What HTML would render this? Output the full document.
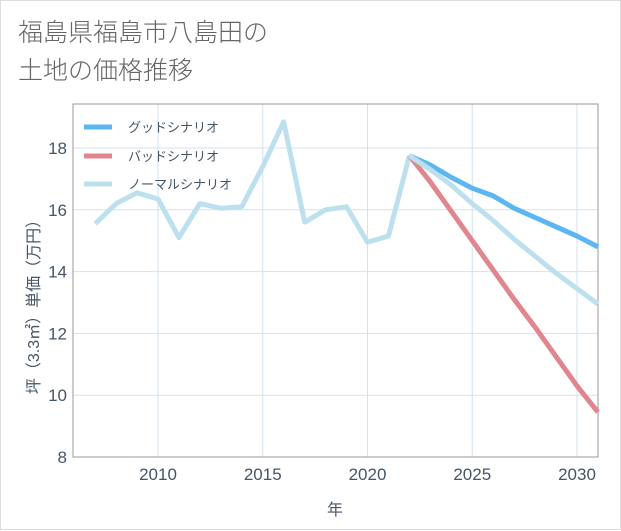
<!DOCTYPE html>
<html><head><meta charset="utf-8"><style>
body{margin:0;background:#fff;}
#wrap{position:relative;width:621px;height:530px;box-sizing:border-box;border:1px solid #ddd;background:#fff;font-family:"Liberation Sans","Noto Sans CJK JP",sans-serif;}
#title{position:absolute;left:17px;top:13px;font-size:25px;line-height:38px;color:#666;font-weight:300;}
</style></head><body>
<div id="wrap">
<div id="title">福島県福島市八島田の<br>土地の価格推移</div>
<svg id="chart" width="621" height="530" style="position:absolute;left:0;top:0"></svg>
</div>
<script>
const years=[2007,2008,2009,2010,2011,2012,2013,2014,2015,2016,2017,2018,2019,2020,2021,2022];
const normalHist=[15.55,16.2,16.55,16.35,15.1,16.2,16.05,16.1,17.4,18.85,15.6,16.0,16.1,14.95,15.15,17.75];
const futureYears=[2022,2023,2024,2025,2026,2027,2028,2029,2030,2031];
const goodVals=[17.75,17.45,17.05,16.7,16.45,16.05,15.75,15.45,15.15,14.8];
const badVals=[17.75,16.9,15.95,15.0,14.05,13.1,12.2,11.25,10.3,9.45];
const normalVals=[17.75,17.3,16.8,16.2,15.65,15.05,14.5,13.95,13.45,12.95];
const xTicks=[2010,2015,2020,2025,2030];
const yTicks=[8,10,12,14,16,18];
const L=72,R=597,T=103,B=456;
const xs=y=>157+(y-2010)*(576-157)/20;
const ys=v=>456-(v-8)*(456-147)/10;
const svg=document.getElementById('chart');
const NS='http://www.w3.org/2000/svg';
function mk(t,a){const e=document.createElementNS(NS,t);for(const k in a)e.setAttribute(k,a[k]);svg.appendChild(e);return e;}
for(const t of xTicks){const g=mk('line',{x1:xs(t),x2:xs(t),y1:T,y2:B,stroke:'#d3e3ee','stroke-width':1});


const tx=mk('text',{x:xs(t),y:479,'text-anchor':'middle','font-size':17,fill:'#445566'});tx.textContent=t;

}
for(const t of yTicks){const g=mk('line',{x1:L,x2:R,y1:ys(t),y2:ys(t),stroke:'#d3e3ee','stroke-width':1});


const tx=mk('text',{x:66,y:ys(t)+6,'text-anchor':'end','font-size':17,fill:'#445566'});tx.textContent=t;

}
const box=mk('rect',{x:L,y:T,width:R-L,height:B-T,fill:'none',stroke:'#999','stroke-width':1});


function line(xv,yv,color,name){const p=mk('polyline',{points:xv.map((x,i)=>xs(x)+','+ys(yv[i])).join(' '),fill:'none',stroke:color,'stroke-width':5,'stroke-linejoin':'round'});

}
line(years,normalHist,'#bde0ee','normal-history-line');
line(futureYears,badVals,'#e0868f','bad-scenario-line');
line(futureYears,goodVals,'#5cb6f2','good-scenario-line');
line(futureYears,normalVals,'#bde0ee','normal-scenario-line');
const leg=[['グッドシナリオ','#5cb6f2',126],['バッドシナリオ','#e0868f',155],['ノーマルシナリオ','#bde0ee',183]];
for(const [lab,c,y] of leg){const l=mk('line',{x1:83,x2:111,y1:y,y2:y,stroke:c,'stroke-width':5});


const t=mk('text',{x:127,y:y+5,'font-size':13,fill:'#445566'});t.textContent=lab;

}
const xt=mk('text',{x:334,y:514,'text-anchor':'middle','font-size':16,fill:'#445566'});xt.textContent='年';


const yt=mk('text',{x:0,y:0,'text-anchor':'middle','font-size':16,fill:'#445566',transform:'translate(38,302) rotate(-90)'});yt.textContent='坪（3.3㎡）単価（万円）';


</script>
</body></html>
